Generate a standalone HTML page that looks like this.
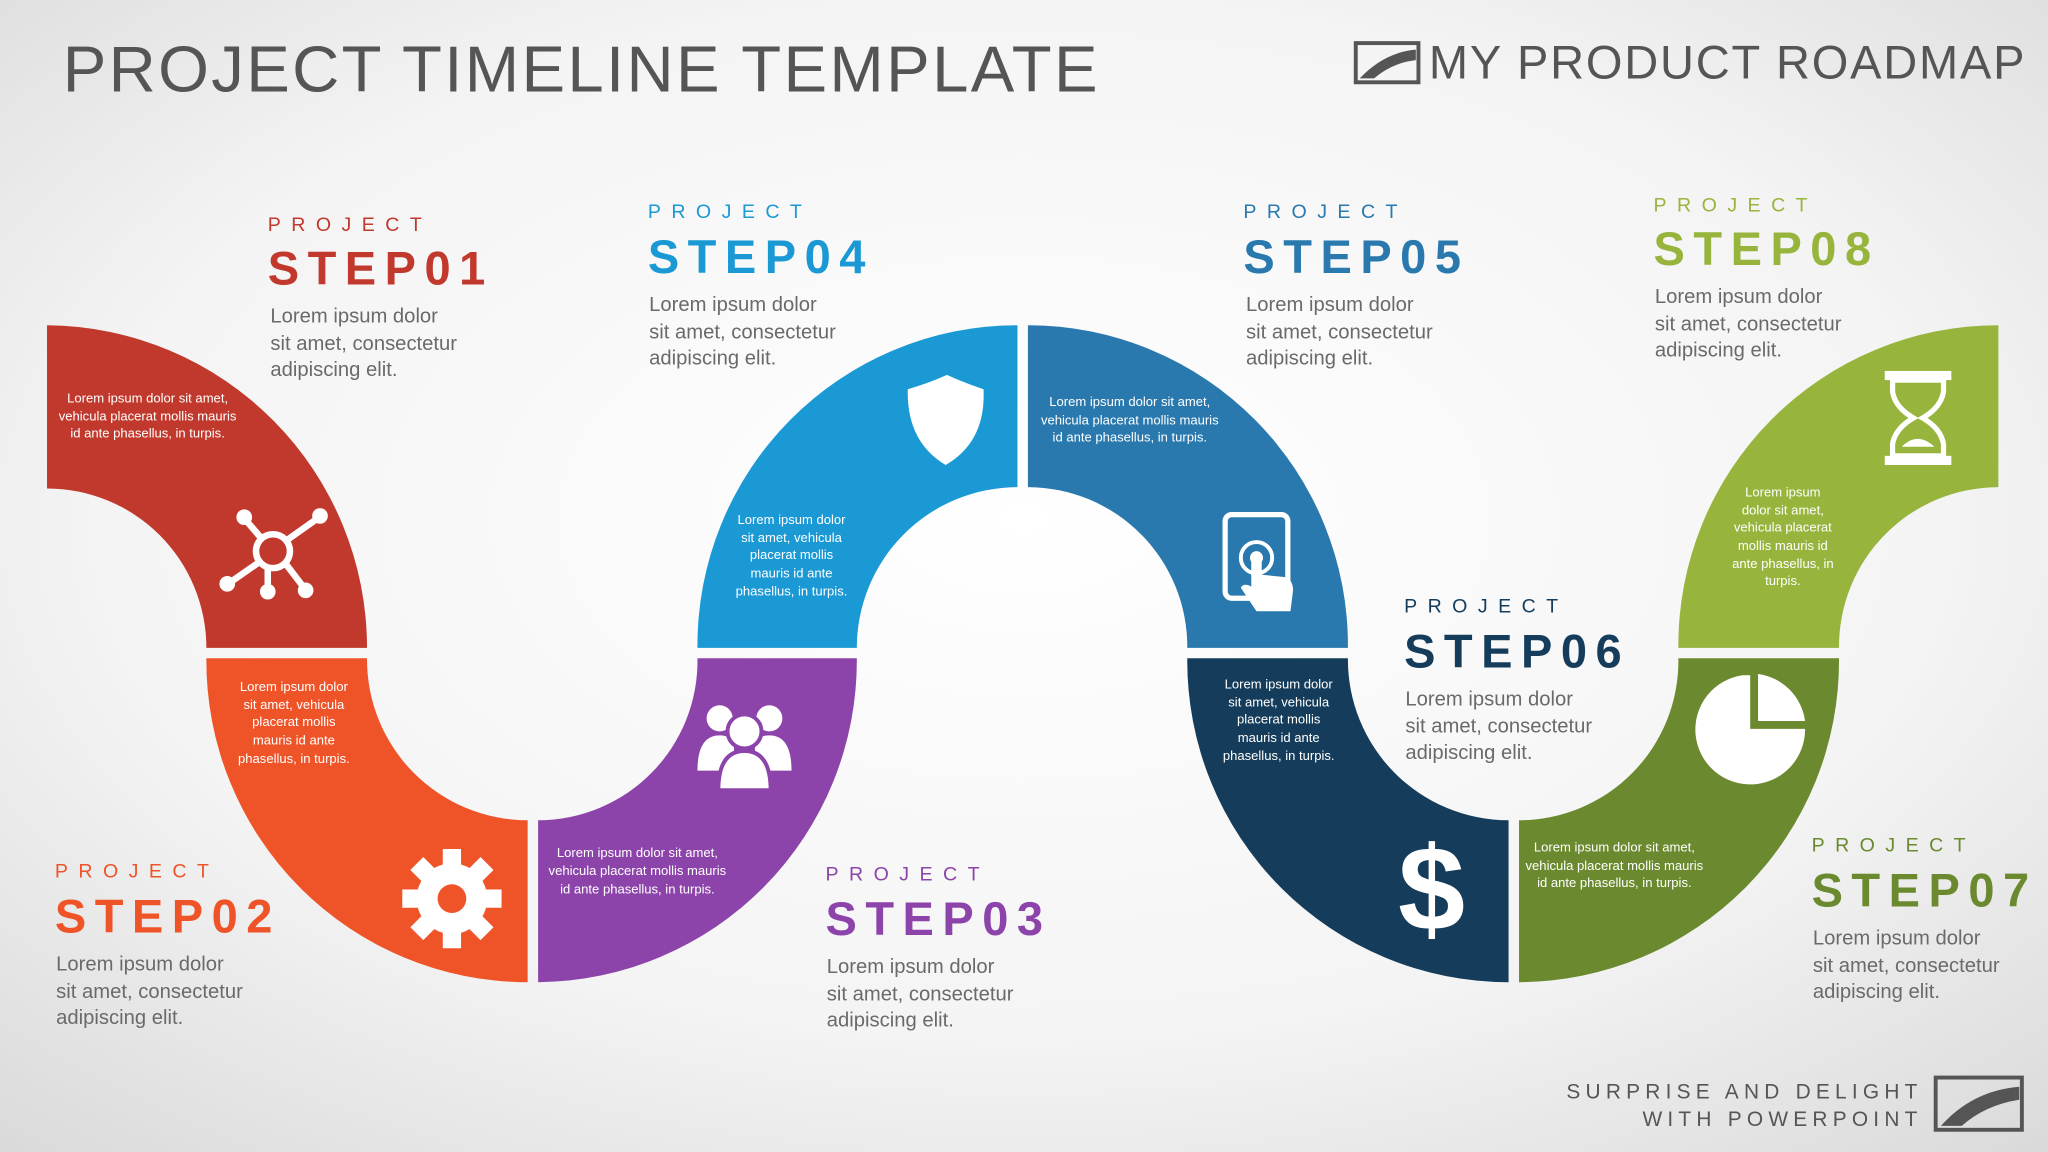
<!DOCTYPE html>
<html><head><meta charset="utf-8"><style>
html,body{margin:0;padding:0;width:2048px;height:1152px;overflow:hidden}
svg{display:block}
text{font-family:"Liberation Sans",sans-serif}
.pj{font-size:15px;letter-spacing:8px}
.st{font-size:36px;font-weight:bold;letter-spacing:6.5px}
.bd{font-size:15.5px;fill:#6a6a6a}
.w{font-size:10px;fill:#fff}
</style></head><body>
<svg width="2048" height="1152" viewBox="0 0 1568 882" xmlns="http://www.w3.org/2000/svg">
<defs><radialGradient id="bg" cx="0.5" cy="0.45" r="0.75"><stop offset="0" stop-color="#ffffff"/><stop offset="0.6" stop-color="#f4f4f4"/><stop offset="1" stop-color="#d9d9d9"/></radialGradient></defs>
<rect width="1568" height="882" fill="url(#bg)"/>
<text x="48" y="70" font-size="50" fill="#555" letter-spacing="1.8">PROJECT TIMELINE TEMPLATE</text>
<rect x="1038" y="33" width="48" height="30" fill="none" stroke="#555" stroke-width="3"/>
<path d="M1041 60 Q1060 40 1084 38 L1084 46 Q1066 48 1052 60Z" fill="#555"/>
<text x="1094" y="60" font-size="36" fill="#555" textLength="456" lengthAdjust="spacing">MY PRODUCT ROADMAP</text>
<text x="1472" y="841" font-size="16" fill="#555" letter-spacing="4" text-anchor="end">SURPRISE AND DELIGHT</text>
<text x="1472" y="862" font-size="16" fill="#555" letter-spacing="4" text-anchor="end">WITH POWERPOINT</text>
<rect x="1482" y="825" width="66" height="40" fill="none" stroke="#555" stroke-width="3"/>
<path d="M1486 862 Q1510 835 1546 832 L1546 842 Q1520 846 1502 862Z" fill="#555"/>

<path d="M36 249 A247 247 0 0 1 281 496 L158 496 A122 122 0 0 0 36 374Z" fill="#c1392c"/>
<path d="M158 504 A246 246 0 0 0 404 752 L404 628 A123 123 0 0 1 281 504Z" fill="#ef5429"/>
<path d="M412 752 A246 246 0 0 0 656 504 L534 504 A122 122 0 0 1 412 628Z" fill="#8c44aa"/>
<path d="M534 496 A245 245 0 0 1 779 249 L779 373 A123 123 0 0 0 656 496Z" fill="#1a99d5"/>
<path d="M787 249 A245 245 0 0 1 1032 496 L909 496 A122 122 0 0 0 787 373Z" fill="#2979ae"/>
<path d="M909 504 A246 246 0 0 0 1155 752 L1155 628 A123 123 0 0 1 1032 504Z" fill="#153d5b"/>
<path d="M1163 752 A246 246 0 0 0 1408 504 L1285 504 A122 122 0 0 1 1163 628Z" fill="#6b8a2f"/>
<path d="M1285 496 A245 245 0 0 1 1530 249 L1530 373 A122 122 0 0 0 1408 496Z" fill="#97b43c"/>

<g class="w" text-anchor="middle">
<text x="113" y="308">Lorem ipsum dolor sit amet,</text><text x="113" y="322">vehicula placerat mollis mauris</text><text x="113" y="335">id ante phasellus, in turpis.</text>
<text x="225" y="529">Lorem ipsum dolor</text><text x="225" y="543">sit amet, vehicula</text><text x="225" y="556">placerat mollis</text><text x="225" y="570">mauris id ante</text><text x="225" y="584">phasellus, in turpis.</text>
<text x="488" y="656">Lorem ipsum dolor sit amet,</text><text x="488" y="670">vehicula placerat mollis mauris</text><text x="488" y="684">id ante phasellus, in turpis.</text>
<text x="606" y="401">Lorem ipsum dolor</text><text x="606" y="415">sit amet, vehicula</text><text x="606" y="428">placerat mollis</text><text x="606" y="442">mauris id ante</text><text x="606" y="456">phasellus, in turpis.</text>
<text x="865" y="311">Lorem ipsum dolor sit amet,</text><text x="865" y="325">vehicula placerat mollis mauris</text><text x="865" y="338">id ante phasellus, in turpis.</text>
<text x="979" y="527">Lorem ipsum dolor</text><text x="979" y="541">sit amet, vehicula</text><text x="979" y="554">placerat mollis</text><text x="979" y="568">mauris id ante</text><text x="979" y="582">phasellus, in turpis.</text>
<text x="1236" y="652">Lorem ipsum dolor sit amet,</text><text x="1236" y="666">vehicula placerat mollis mauris</text><text x="1236" y="679">id ante phasellus, in turpis.</text>
<text x="1365" y="380">Lorem ipsum</text><text x="1365" y="394">dolor sit amet,</text><text x="1365" y="407">vehicula placerat</text><text x="1365" y="421">mollis mauris id</text><text x="1365" y="435">ante phasellus, in</text><text x="1365" y="448">turpis.</text>
</g>

<g stroke="#fff" stroke-width="5" fill="none">
<circle cx="209" cy="422" r="13"/>
<line x1="176" y1="446" x2="199" y2="430"/><line x1="243" y1="397" x2="219" y2="414"/><line x1="188" y1="398" x2="200" y2="412"/><line x1="232" y1="449" x2="219" y2="432"/><line x1="205" y1="435" x2="205" y2="452"/>
</g>
<g fill="#fff"><circle cx="174" cy="447" r="6"/><circle cx="245" cy="395" r="6"/><circle cx="187" cy="396" r="6"/><circle cx="234" cy="452" r="6"/><circle cx="205" cy="453" r="6"/></g>
<g fill="#fff"><circle cx="346" cy="688" r="27"/>
<g transform="translate(346 688)"><rect x="-7" y="-38" width="14" height="76"/><rect x="-7" y="-38" width="14" height="76" transform="rotate(45)"/><rect x="-7" y="-38" width="14" height="76" transform="rotate(90)"/><rect x="-7" y="-38" width="14" height="76" transform="rotate(135)"/></g></g>
<circle cx="346" cy="688" r="11" fill="#ef5429"/>
<g fill="#fff"><circle cx="551" cy="550" r="10"/><circle cx="589" cy="550" r="10"/><path d="M534 590 Q534 563 551 563 Q560 563 562 570 L562 590Z"/><path d="M606 590 Q606 563 589 563 Q580 563 578 570 L578 590Z"/>
<circle cx="570" cy="560" r="13" stroke="#8c44aa" stroke-width="3"/><path d="M550 605 Q550 575 570 575 Q590 575 590 605Z" stroke="#8c44aa" stroke-width="3"/></g>
<path d="M695 298 Q712 293 725 287 Q738 293 753 298 Q755 338 724 356 Q694 338 695 298Z" fill="#fff"/>
<rect x="938" y="394" width="48" height="64" rx="5" fill="none" stroke="#fff" stroke-width="4"/>
<circle cx="962" cy="427" r="12" fill="none" stroke="#fff" stroke-width="3"/><circle cx="962" cy="427" r="5" fill="#fff"/>
<path d="M958 427 L966 427 L966 440 L985 442 Q990 445 990 452 L988 468 L962 468 L950 450 Q952 446 958 449Z" fill="#fff"/>
<text x="1096" y="712" font-size="92" font-weight="bold" fill="#fff" text-anchor="middle">$</text>
<path d="M1334 517 A42 42 0 1 0 1382 558 L1340 558 L1340 517Z" fill="#fff"/><path d="M1346 516 A42 42 0 0 1 1382 552 L1346 552Z" fill="#fff"/>
<g fill="#fff"><rect x="1443" y="284" width="51" height="7"/><rect x="1443" y="349" width="51" height="7"/>
<path d="M1449 291 L1488 291 L1488 300 Q1486 312 1472 320 Q1486 328 1488 340 L1488 349 L1449 349 L1449 340 Q1451 328 1465 320 Q1451 312 1449 300Z" fill="none" stroke="#fff" stroke-width="4"/>
<path d="M1456 342 Q1468 330 1481 342Z"/></g>

<g>
<text x="205" y="177" class="pj" fill="#c1392c">PROJECT</text><text x="205" y="218" class="st" fill="#c1392c">STEP01</text>
<text class="bd"><tspan x="207" y="247">Lorem ipsum dolor</tspan><tspan x="207" y="268">sit amet, consectetur</tspan><tspan x="207" y="288">adipiscing elit.</tspan></text>
<text x="42" y="672" class="pj" fill="#ef5429">PROJECT</text><text x="42" y="714" class="st" fill="#ef5429">STEP02</text>
<text class="bd"><tspan x="43" y="743">Lorem ipsum dolor</tspan><tspan x="43" y="764">sit amet, consectetur</tspan><tspan x="43" y="784">adipiscing elit.</tspan></text>
<text x="632" y="674" class="pj" fill="#8c44aa">PROJECT</text><text x="632" y="716" class="st" fill="#8c44aa">STEP03</text>
<text class="bd"><tspan x="633" y="745">Lorem ipsum dolor</tspan><tspan x="633" y="766">sit amet, consectetur</tspan><tspan x="633" y="786">adipiscing elit.</tspan></text>
<text x="496" y="167" class="pj" fill="#1a99d5">PROJECT</text><text x="496" y="209" class="st" fill="#1a99d5">STEP04</text>
<text class="bd"><tspan x="497" y="238">Lorem ipsum dolor</tspan><tspan x="497" y="259">sit amet, consectetur</tspan><tspan x="497" y="279">adipiscing elit.</tspan></text>
<text x="952" y="167" class="pj" fill="#2979ae">PROJECT</text><text x="952" y="209" class="st" fill="#2979ae">STEP05</text>
<text class="bd"><tspan x="954" y="238">Lorem ipsum dolor</tspan><tspan x="954" y="259">sit amet, consectetur</tspan><tspan x="954" y="279">adipiscing elit.</tspan></text>
<text x="1075" y="469" class="pj" fill="#153d5b">PROJECT</text><text x="1075" y="511" class="st" fill="#153d5b">STEP06</text>
<text class="bd"><tspan x="1076" y="540">Lorem ipsum dolor</tspan><tspan x="1076" y="561">sit amet, consectetur</tspan><tspan x="1076" y="581">adipiscing elit.</tspan></text>
<text x="1387" y="652" class="pj" fill="#6b8a2f">PROJECT</text><text x="1387" y="694" class="st" fill="#6b8a2f">STEP07</text>
<text class="bd"><tspan x="1388" y="723">Lorem ipsum dolor</tspan><tspan x="1388" y="744">sit amet, consectetur</tspan><tspan x="1388" y="764">adipiscing elit.</tspan></text>
<text x="1266" y="162" class="pj" fill="#97b43c">PROJECT</text><text x="1266" y="203" class="st" fill="#97b43c">STEP08</text>
<text class="bd"><tspan x="1267" y="232">Lorem ipsum dolor</tspan><tspan x="1267" y="253">sit amet, consectetur</tspan><tspan x="1267" y="273">adipiscing elit.</tspan></text>
</g>
</svg>
</body></html>
